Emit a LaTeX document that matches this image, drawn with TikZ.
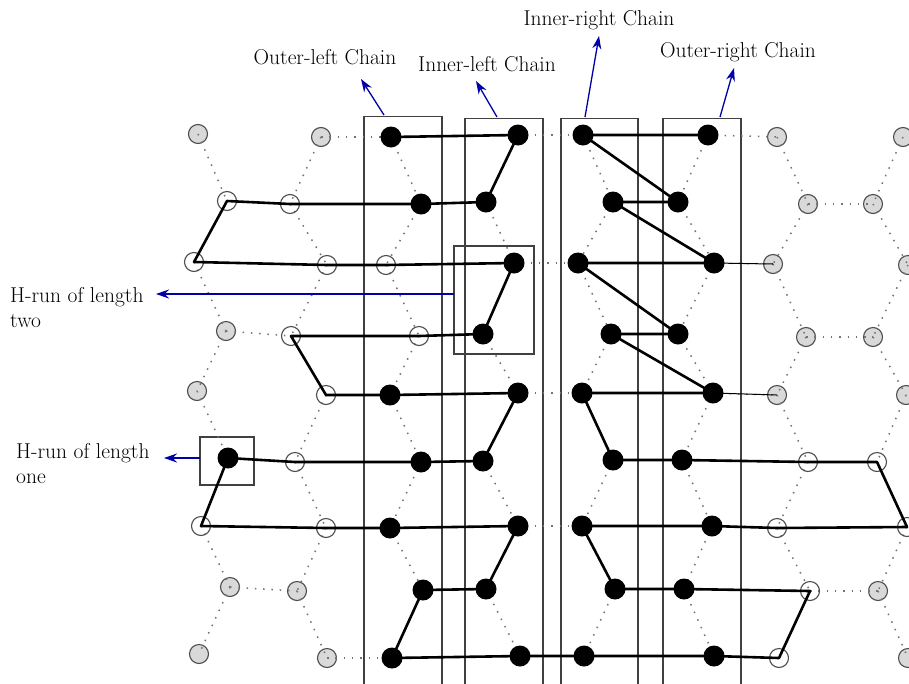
\documentclass[tikz,border=0pt]{standalone}
\usetikzlibrary{arrows.meta}
\pgfdeclarelayer{lower}
\pgfdeclarelayer{dots}
\pgfsetlayers{lower,dots,main}
\begin{document}
\begin{tikzpicture}[x=1pt,y=-1pt,
  blk/.style={circle, fill=black, inner sep=0pt, minimum size=21pt},
  opn/.style={circle, draw=black!70, line width=1.1pt, inner sep=0pt, minimum size=19pt},
  gry/.style={circle, draw=black!70, fill=black!15, line width=1.1pt, inner sep=0pt, minimum size=19pt},
  lat/.style={black!55, line width=1.5pt, dash pattern=on 1.5pt off 6.8pt},
  run/.style={line width=2.6pt, line join=round},
  thinrun/.style={line width=1pt},
  chainbox/.style={draw=black!75, line width=1.2pt, inner sep=0pt},
  callout/.style={draw=blue!65!black, line width=1.3pt, -{Stealth[length=13pt,width=9pt]}},
  lbl/.style={font=\fontsize{21.5}{25}\selectfont, inner sep=0pt}]
\useasboundingbox (0,0) rectangle (909,683);

% chain boxes and H-run boxes
\begin{pgfonlayer}{lower}
\fill[white] (0,0) rectangle (909,683);
\node[chainbox, minimum width=78pt, minimum height=572pt, anchor=north] (olbox) at (403,116) {};
\node[chainbox, minimum width=78pt, minimum height=570pt, anchor=north] (ilbox) at (504,118) {};
\node[chainbox, minimum width=77pt, minimum height=570pt, anchor=north] (irbox) at (599.5,118) {};
\node[chainbox, minimum width=78pt, minimum height=570pt, anchor=north] (orbox) at (702,118) {};
\node[chainbox, minimum width=80pt, minimum height=108pt] (hrtwo) at (494,300) {};
\node[chainbox, minimum width=54pt, minimum height=48pt] (hrone) at (227,461) {};

% grey vertices
\node[gry] (a1) at (198,134) {};
\node[gry] (b1) at (321,137) {};
\node[gry] (g1) at (777,137) {};
\node[gry] (h1) at (903,137) {};
\node[gry] (g2) at (808,204) {};
\node[gry] (h2) at (873,204) {};
\node[gry] (g3) at (773,264) {};
\node[gry] (h3) at (908,265) {};
\node[gry] (a4) at (226,331) {};
\node[gry] (g4) at (806,337) {};
\node[gry] (h4) at (873,337) {};
\node[gry] (a5) at (197,391) {};
\node[gry] (g5) at (777,395) {};
\node[gry] (h5) at (906,395) {};
\node[gry] (a8) at (230,587) {};
\node[gry] (b8) at (297,591) {};
\node[gry] (h8) at (878,591) {};
\node[gry] (a9) at (199,654) {};
\node[gry] (b9) at (327,658) {};
\node[gry] (h9) at (908,658) {};
\end{pgfonlayer}

% open vertices
\node[opn] (a2) at (227,201) {};
\node[opn] (b2) at (290,204) {};
\node[opn] (a3) at (194,262) {};
\node[opn] (b3) at (327,265) {};
\node[opn] (c3) at (386,265) {};
\node[opn] (b4) at (291,336) {};
\node[opn] (c4) at (419,336) {};
\node[opn] (b5) at (326,395) {};
\node[opn] (b6) at (295,462) {};
\node[opn] (g6) at (808,462) {};
\node[opn] (h6) at (877,462) {};
\node[opn] (a7) at (201,526) {};
\node[opn] (b7) at (326,528) {};
\node[opn] (g7) at (777,528) {};
\node[opn] (h7) at (907,527) {};
\node[opn] (g8) at (810,591) {};
\node[opn] (g9) at (779,658) {};

% black vertices
\node[blk] (c1) at (391,137) {};
\node[blk] (d1) at (518,135) {};
\node[blk] (e1) at (583,135) {};
\node[blk] (f1) at (708,135) {};
\node[blk] (c2) at (421,204) {};
\node[blk] (d2) at (486,202) {};
\node[blk] (e2) at (613,202) {};
\node[blk] (f2) at (678,202) {};
\node[blk] (d3) at (514,263) {};
\node[blk] (e3) at (578,263) {};
\node[blk] (f3) at (714,263) {};
\node[blk] (d4) at (483,334) {};
\node[blk] (e4) at (611,334) {};
\node[blk] (f4) at (678,334) {};
\node[blk] (c5) at (390,395) {};
\node[blk] (d5) at (518,393) {};
\node[blk] (e5) at (582,393) {};
\node[blk] (f5) at (713,393) {};
\node[blk] (a6) at (228,458) {};
\node[blk] (c6) at (421,462) {};
\node[blk] (d6) at (483,461) {};
\node[blk] (e6) at (613,460) {};
\node[blk] (f6) at (682,460) {};
\node[blk] (c7) at (390,528) {};
\node[blk] (d7) at (518,526) {};
\node[blk] (e7) at (582,526) {};
\node[blk] (f7) at (712,526) {};
\node[blk] (c8) at (423,590) {};
\node[blk] (d8) at (486,589) {};
\node[blk] (e8) at (615,589) {};
\node[blk] (f8) at (684,589) {};
\node[blk] (c9) at (392,658) {};
\node[blk] (d9) at (520,656) {};
\node[blk] (e9) at (584,656) {};
\node[blk] (f9) at (714,656) {};

% dotted honeycomb lattice
\begin{pgfonlayer}{dots}
\foreach \c in {a,b,c,d,e,f,g,h}{
  \foreach \i [evaluate=\i as \j using int(\i+1)] in {1,...,8}{
    \draw[lat] (\c\i.center) -- (\c\j.center);
  }
}
\foreach \r in {1,3,5,7,9}{
  \draw[lat] (b\r.center) -- (c\r.center);
  \draw[lat] (d\r.center) -- (e\r.center);
  \draw[lat] (f\r.center) -- (g\r.center);
}
\foreach \r in {2,4,6,8}{
  \draw[lat] (a\r.center) -- (b\r.center);
  \draw[lat] (c\r.center) -- (d\r.center);
  \draw[lat] (e\r.center) -- (f\r.center);
  \draw[lat] (g\r.center) -- (h\r.center);
}
\end{pgfonlayer}

% thick path
\draw[run] (c1.center) -- (d1.center) -- (d2.center) -- (c2.center) -- (b2.center) -- (a2.center) -- (a3.center)
  -- (b3.center) -- (c3.center) -- (d3.center) -- (d4.center) -- (c4.center) -- (b4.center) -- (b5.center)
  -- (c5.center) -- (d5.center) -- (d6.center) -- (c6.center) -- (b6.center) -- (a6.center) -- (a7.center)
  -- (b7.center) -- (c7.center) -- (d7.center) -- (d8.center) -- (c8.center) -- (c9.center) -- (d9.center)
  -- (e9.center) -- (f9.center) -- (g9.center) -- (g8.center) -- (f8.center) -- (e8.center) -- (e7.center)
  -- (f7.center) -- (g7.center) -- (h7.center) -- (h6.center) -- (g6.center) -- (f6.center) -- (e6.center)
  -- (e5.center) -- (f5.center) -- (e4.center) -- (f4.center) -- (e3.center) -- (f3.center) -- (e2.center)
  -- (f2.center) -- (e1.center) -- (f1.center);
\draw[thinrun] (f3.center) -- (g3.center);
\draw[thinrun] (f5.center) -- (g5.center);

% labels
\node[lbl] (ollbl) at (325,57) {Outer-left Chain};
\node[lbl] (illbl) at (487,64) {Inner-left Chain};
\node[lbl] (irlbl) at (599,20) {Inner-right Chain};
\node[lbl] (orlbl) at (738,52) {Outer-right Chain};
\node[lbl, anchor=north west, align=left] (hrtwolbl) at (10,287) {H-run of length\\two};
\node[lbl, anchor=north west, align=left] (hronelbl) at (16,443) {H-run of length\\one};

% callout arrows
\coordinate (olsrc) at (384,115);  \coordinate (oltip) at (361,79);
\coordinate (ilsrc) at (497,117);  \coordinate (iltip) at (476,81);
\coordinate (irsrc) at (585,117);  \coordinate (irtip) at (599,36);
\coordinate (orsrc) at (720,117);  \coordinate (ortip) at (734,68);
\coordinate (hrtwosrc) at (454,294); \coordinate (hrtwotip) at (156,294);
\coordinate (hronesrc) at (200,458); \coordinate (hronetip) at (164,458);
\draw[callout] (olsrc) -- (oltip);
\draw[callout] (ilsrc) -- (iltip);
\draw[callout] (irsrc) -- (irtip);
\draw[callout] (orsrc) -- (ortip);
\draw[callout] (hrtwosrc) -- (hrtwotip);
\draw[callout] (hronesrc) -- (hronetip);
\end{tikzpicture}
\end{document}
